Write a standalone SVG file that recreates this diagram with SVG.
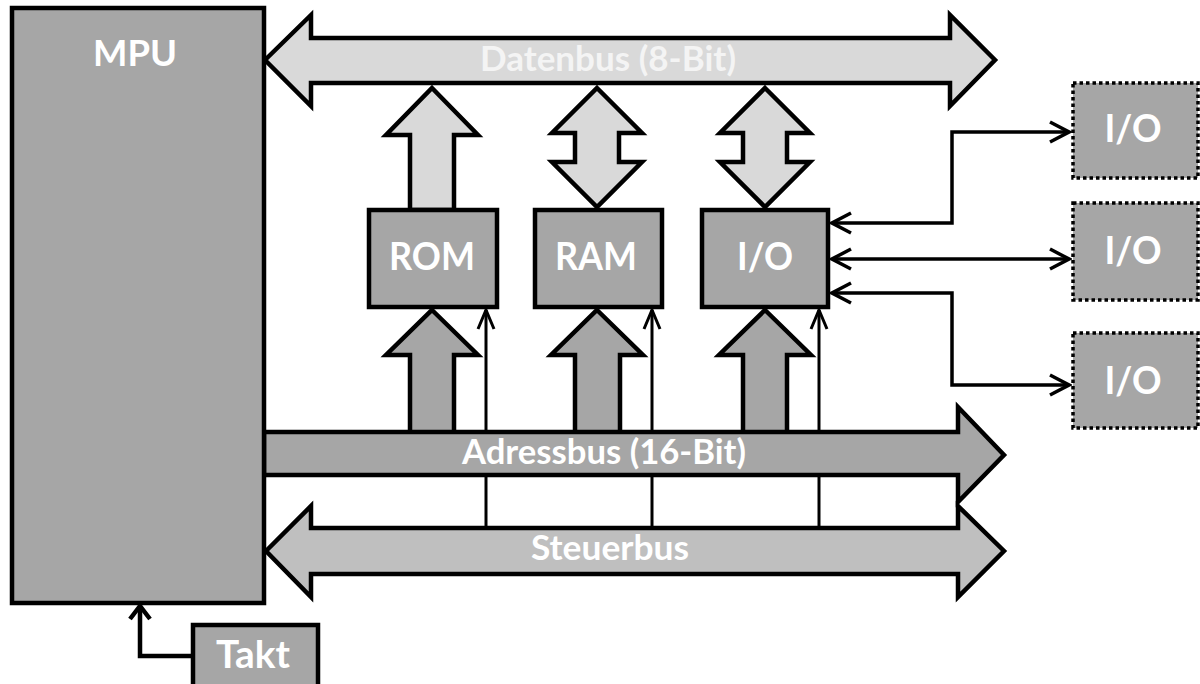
<svg xmlns="http://www.w3.org/2000/svg" width="1200" height="684" viewBox="0 0 1200 684">
<style>
.box{fill:#a6a6a6;stroke:#000;stroke-width:4.5;stroke-linejoin:miter}
.ext{fill:#a6a6a6;stroke:#000;stroke-width:3.5;stroke-dasharray:3.5 3}
.light{fill:#d9d9d9;stroke:#000;stroke-width:4.5;stroke-linejoin:miter}
.mid{fill:#bfbfbf;stroke:#000;stroke-width:4.5;stroke-linejoin:miter}
.dark{fill:#a6a6a6;stroke:#000;stroke-width:4.5;stroke-linejoin:miter}
.lbl{font-family:Lato,"Open Sans","Liberation Sans",sans-serif;font-weight:bold;fill:#fff;text-anchor:middle}
.wire{fill:none;stroke:#000;stroke-width:3.5}
.thin{fill:none;stroke:#000;stroke-width:3}
</style>
<defs>
<marker id="ah" viewBox="0 0 24 24" markerWidth="24" markerHeight="24" refX="21" refY="12" orient="auto-start-reverse" markerUnits="userSpaceOnUse">
<polyline points="2,2 21,12 2,22" fill="none" stroke="#000" stroke-width="3.5"/>
</marker>
<marker id="ahs" viewBox="0 0 24 20" markerWidth="24" markerHeight="20" refX="21" refY="10" orient="auto" markerUnits="userSpaceOnUse">
<polyline points="2,2 21,10 2,18" fill="none" stroke="#000" stroke-width="3"/>
</marker>
</defs>

<g id="connectors">
<line class="thin" x1="486" y1="528" x2="486" y2="310" marker-end="url(#ahs)"/>
<line class="thin" x1="652" y1="528" x2="652" y2="310" marker-end="url(#ahs)"/>
<line class="thin" x1="819" y1="528" x2="819" y2="310" marker-end="url(#ahs)"/>
<polyline class="wire" points="832,223 952,223 952,132 1069,132" marker-start="url(#ah)" marker-end="url(#ah)"/>
<polyline class="wire" points="832,259 1069,259" marker-start="url(#ah)" marker-end="url(#ah)"/>
<polyline class="wire" points="832,293 952,293 952,385 1069,385" marker-start="url(#ah)" marker-end="url(#ah)"/>
<polyline points="193,656 140,656 140,607" fill="none" stroke="#000" stroke-width="4.5"/>
<polyline points="130,619 140,606 150,619" fill="none" stroke="#000" stroke-width="4.5"/>
<polygon class="light" points="432,88 478,135 454,135 454,210 410,210 410,135 386,135"/>
<polygon class="light" points="597,88 642,133 619,133 619,162 642,162 597,207 552,162 575,162 575,133 552,133"/>
<polygon class="light" points="765,88 810,133 787,133 787,162 810,162 765,207 720,162 743,162 743,133 720,133"/>
<polygon class="dark" points="432,310 478,355 454,355 454,434 410,434 410,355 386,355"/>
<polygon class="dark" points="597,310 643,355 620,355 620,434 575,434 575,355 551,355"/>
<polygon class="dark" points="765,310 811,355 787,355 787,434 743,434 743,355 719,355"/>
</g>

<g id="datenbus">
<polygon class="light" points="265,60 311,15 311,38 950,38 950,15 995,60 950,106 950,83 311,83 311,106"/>
<text class="lbl" x="608" y="71" font-size="34" textLength="256" lengthAdjust="spacingAndGlyphs" style="fill:#f4f4f4">Datenbus (8-Bit)</text>
</g>

<g id="adressbus">
<polygon class="dark" points="264,432 958,432 958,407 1004,455 958,502 958,475 264,475"/>
<text class="lbl" x="604" y="464" font-size="34" textLength="284" lengthAdjust="spacingAndGlyphs">Adressbus (16-Bit)</text>
</g>

<g id="steuerbus">
<polygon class="mid" points="266,551 311,506 311,528 958,528 958,506 1004,551 958,597 958,574 311,574 311,597"/>
<text class="lbl" x="610" y="560" font-size="34" textLength="158" lengthAdjust="spacingAndGlyphs">Steuerbus</text>
</g>

<g id="mpu">
<rect class="box" x="12" y="8" width="252" height="595"/>
<text class="lbl" x="135" y="66" font-size="36" textLength="84" lengthAdjust="spacingAndGlyphs">MPU</text>
</g>

<g id="rom">
<rect class="box" x="369" y="210" width="128" height="97"/>
<text class="lbl" x="432" y="270" font-size="38" textLength="86" lengthAdjust="spacingAndGlyphs">ROM</text>
</g>

<g id="ram">
<rect class="box" x="535" y="210" width="127" height="97"/>
<text class="lbl" x="596" y="270" font-size="38" textLength="82" lengthAdjust="spacingAndGlyphs">RAM</text>
</g>

<g id="io">
<rect class="box" x="702" y="210" width="126" height="97"/>
<text class="lbl" x="765" y="270" font-size="38" textLength="56" lengthAdjust="spacingAndGlyphs">I/O</text>
</g>

<g id="io-ext-1">
<rect class="ext" x="1073" y="83" width="125" height="95"/>
<text class="lbl" x="1133" y="142" font-size="38" textLength="57" lengthAdjust="spacingAndGlyphs">I/O</text>
</g>

<g id="io-ext-2">
<rect class="ext" x="1073" y="203" width="125" height="97"/>
<text class="lbl" x="1133" y="264" font-size="38" textLength="57" lengthAdjust="spacingAndGlyphs">I/O</text>
</g>

<g id="io-ext-3">
<rect class="ext" x="1073" y="333" width="125" height="95"/>
<text class="lbl" x="1133" y="394" font-size="38" textLength="57" lengthAdjust="spacingAndGlyphs">I/O</text>
</g>

<g id="takt">
<rect class="box" x="193" y="625" width="125" height="70"/>
<text class="lbl" x="253" y="668" font-size="38" textLength="74" lengthAdjust="spacingAndGlyphs">Takt</text>
</g>
</svg>
